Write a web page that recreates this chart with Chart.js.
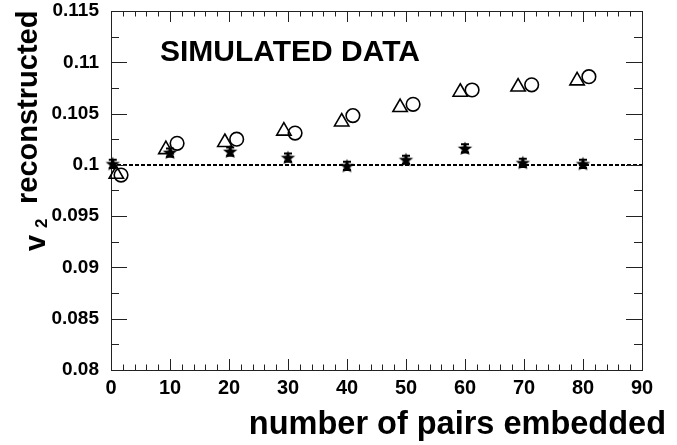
<!DOCTYPE html>
<html>
<head>
<meta charset="utf-8">
<script src="https://cdn.jsdelivr.net/npm/chart.js@4"></script>
<style>
  html, body { margin: 0; padding: 0; background: #fff; }
</style>
</head>
<body>
<canvas id="chart" width="677" height="445" style="width:677px;height:445px"></canvas>
<script>
/* values */
const triX = [0.9, 9.3, 19.3, 29.3, 39.1, 49.0, 59.2, 69.0, 79.0];
const triY = [0.0991, 0.1015, 0.1022, 0.1033, 0.1042, 0.1056, 0.1071, 0.1076, 0.1082];
const circX = [1.7, 11.2, 21.3, 31.2, 41.0, 51.2, 61.2, 71.3, 81.0];
const circY = [0.0990, 0.1021, 0.1025, 0.1031, 0.1048, 0.1059, 0.1073, 0.1078, 0.1086];
const starX = [0.3, 10.0, 20.2, 30.0, 40.0, 50.0, 60.0, 69.8, 80.0];
const starY = [0.1001, 0.1012, 0.1013, 0.1007, 0.0999, 0.1005, 0.1016, 0.1002, 0.1001];
const starErr = [0.0004, 0.0004, 0.0004, 0.0004, 0.0004, 0.0004, 0.0004, 0.0004, 0.0004];
const refLine = 0.1;

const xMin = 0, xMax = 90, xStep = 10, xMinor = 2;
const yMin = 0.08, yMax = 0.115, yStep = 0.005, yMinor = 0.0025;

const FONT = "'Liberation Sans', Arial, Helvetica, sans-serif";

function toPoints(xs, ys) {
  return xs.map((x, i) => ({ x: x, y: ys[i] }));
}

// filled star marker (chart.js 'star' is only an outline)
function makeStar(rOut, rIn) {
  const size = Math.ceil(rOut * 2 + 2);
  const c = document.createElement("canvas");
  c.width = size;
  c.height = size;
  const g = c.getContext("2d");
  g.translate(size / 2, size / 2 + 0.5);
  g.beginPath();
  for (let k = 0; k < 10; k++) {
    const r = k % 2 === 0 ? rOut : rIn;
    const a = -Math.PI / 2 + (k * Math.PI) / 5;
    g.lineTo(Math.cos(a) * r, Math.sin(a) * r);
  }
  g.closePath();
  g.fillStyle = "#000";
  g.fill();
  return c;
}

/* frame, inner ticks, dashed line and error bars */
const framePlugin = {
  id: "frame",
  beforeDatasetsDraw(chart) {
    const { ctx, chartArea: a, scales } = chart;
    const xs = scales.x, ys = scales.y;
    ctx.save();

    // dashed reference line
    const yr = Math.round(ys.getPixelForValue(refLine));
    ctx.strokeStyle = "#000";
    ctx.lineWidth = 2;
    ctx.setLineDash([4, 2]);
    ctx.beginPath();
    ctx.moveTo(a.left, yr);
    ctx.lineTo(a.right, yr);
    ctx.stroke();
    ctx.setLineDash([]);

    // box
    ctx.strokeStyle = "#222";
    ctx.lineWidth = 1;
    ctx.strokeRect(a.left + 0.5, a.top + 0.5, a.right - a.left, a.bottom - a.top);

    ctx.beginPath();
    for (let v = xMin; v <= xMax + 1e-9; v += xMinor) {
      const px = Math.round(xs.getPixelForValue(v)) + 0.5;
      const major = Math.abs(v / xStep - Math.round(v / xStep)) < 1e-6;
      const len = major ? 11 : 5.5;
      ctx.moveTo(px, a.bottom);
      ctx.lineTo(px, a.bottom - len);
      ctx.moveTo(px, a.top);
      ctx.lineTo(px, a.top + len);
    }
    for (let v = yMin; v <= yMax + 1e-9; v += yMinor) {
      const py = Math.round(ys.getPixelForValue(v)) + 0.5;
      const major = Math.abs(v / yStep - Math.round(v / yStep)) < 1e-6;
      const len = major ? 16 : 8;
      ctx.moveTo(a.left, py);
      ctx.lineTo(a.left + len, py);
      ctx.moveTo(a.right, py);
      ctx.lineTo(a.right - len, py);
    }
    ctx.stroke();

    // error bars on the star points
    ctx.strokeStyle = "#000";
    ctx.lineWidth = 2;
    ctx.beginPath();
    starX.forEach((x, i) => {
      const px = xs.getPixelForValue(x);
      const lo = ys.getPixelForValue(starY[i] - starErr[i]);
      const hi = ys.getPixelForValue(starY[i] + starErr[i]);
      ctx.moveTo(px, lo);
      ctx.lineTo(px, hi);
      ctx.moveTo(px - 4, lo);
      ctx.lineTo(px + 4, lo);
      ctx.moveTo(px - 4, hi);
      ctx.lineTo(px + 4, hi);
    });
    ctx.stroke();
    ctx.restore();
  },
  afterDraw(chart) {
    const { ctx } = chart;
    ctx.save();
    ctx.fillStyle = "#000";
    ctx.textBaseline = "alphabetic";

    // label inside the frame
    ctx.font = "bold 30px " + FONT;
    ctx.textAlign = "left";
    ctx.fillText("SIMULATED DATA", 160, 61);

    // x title
    ctx.font = "bold 32.5px " + FONT;
    ctx.textAlign = "right";
    ctx.fillText("number of pairs embedded", 666, 434);

    // y title (v with subscript 2), rotated
    const rot = (txt, bx, by, font) => {
      ctx.save();
      ctx.translate(bx, by);
      ctx.rotate(-Math.PI / 2);
      ctx.font = font;
      ctx.textAlign = "left";
      ctx.fillText(txt, 0, 0);
      ctx.restore();
    };
    rot("v", 45, 251, "bold 29px " + FONT);
    rot("2", 47, 228, "bold 17px " + FONT);
    rot("reconstructed", 37, 204, "bold 29px " + FONT);
    ctx.restore();
  },
};

new Chart(document.getElementById("chart"), {
  type: "scatter",
  data: {
    datasets: [
      {
        label: "stars",
        data: toPoints(starX, starY),
        pointStyle: makeStar(7.5, 3.2),
        pointRadius: 7,
        clip: false,
      },
      {
        label: "circles",
        data: toPoints(circX, circY),
        pointStyle: "circle",
        pointRadius: 6.8,
        borderWidth: 1.6,
        borderColor: "#000",
        backgroundColor: "rgba(0,0,0,0)",
        clip: false,
      },
      {
        label: "triangles",
        data: toPoints(triX, triY),
        pointStyle: "triangle",
        pointRadius: 8.3,
        borderWidth: 1.6,
        borderColor: "#000",
        backgroundColor: "rgba(0,0,0,0)",
        clip: false,
      },
    ],
  },
  options: {
    responsive: false,
    animation: false,
    events: [],
    layout: { padding: { top: 11, right: 35, left: 0, bottom: 0 } },
    plugins: { legend: { display: false }, tooltip: { enabled: false } },
    scales: {
      x: {
        type: "linear",
        min: xMin,
        max: xMax,
        grid: { display: false, drawTicks: false },
        border: { display: false },
        ticks: {
          stepSize: xStep,
          padding: 6,
          color: "#000",
          font: { family: FONT, size: 20, weight: "bold" },
          maxRotation: 0,
        },
        afterFit: (s) => {
          s.height = 75;
          s.paddingLeft = 0;
          s.paddingRight = 0;
        },
      },
      y: {
        type: "linear",
        min: yMin,
        max: yMax,
        grid: { display: false, drawTicks: false },
        border: { display: false },
        ticks: {
          stepSize: yStep,
          padding: 12,
          color: "#000",
          font: { family: FONT, size: 19, weight: "bold" },
          callback: (v) => String(parseFloat(v.toFixed(3))),
        },
        afterFit: (s) => {
          s.width = 111;
          s.paddingTop = 0;
          s.paddingBottom = 0;
        },
      },
    },
  },
  plugins: [framePlugin],
});
</script>
</body>
</html>
